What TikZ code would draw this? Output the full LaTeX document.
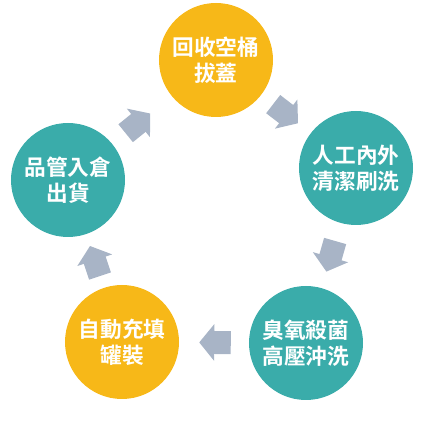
\documentclass[tikz,border=0pt]{standalone}
\usepackage{fontspec}
\newfontfamily\cjk{Noto Sans CJK TC}[BoldFont={Noto Sans CJK TC Bold}]
\usetikzlibrary{arrows.meta}
\definecolor{barrelorange}{RGB}{247,184,24}
\definecolor{barrelteal}{RGB}{58,172,170}
\definecolor{flowgray}{RGB}{168,180,198}

\begin{document}
\begin{tikzpicture}[x=0.03cm, y=-0.03cm,
  stage/.style={circle, minimum size=3.42cm, inner sep=0pt, text=white, align=center,
    font=\cjk\bfseries\fontsize{18.5}{22}\selectfont},
  flow/.style={flowgray, line width=0.69cm, -{Triangle[length=0.45cm, width=1.08cm]}}]
\useasboundingbox (0,0) rectangle (437,429);

\node[stage, fill=barrelorange] (collect) at (216,60)  {回收空桶\\拔蓋};
\node[stage, fill=barrelteal]   (rinse)   at (356,168) {人工內外\\清潔刷洗};
\node[stage, fill=barrelteal]   (ozone)   at (306,343) {臭氧殺菌\\高壓沖洗};
\node[stage, fill=barrelorange] (refill)  at (122,342) {自動充填\\罐裝};
\node[stage, fill=barrelteal]   (ship)    at (68,180)  {品管入倉\\出貨};

% arrows between the stages
\foreach \from/\to/\s/\e in {collect/rinse/0.45/0.48, rinse/ozone/0.56/0.51,
    ozone/refill/0.54/0.6, refill/ship/0.37/0.37, ship/collect/0.51/0.83} {
  \draw[flow, shorten <=\s cm, shorten >=\e cm] (\from) -- (\to);
}

\end{tikzpicture}
\end{document}
